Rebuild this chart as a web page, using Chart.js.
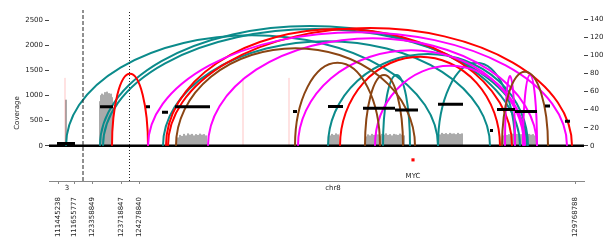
<!DOCTYPE html>
<html>
<head>
<meta charset="utf-8">
<script src="https://cdn.jsdelivr.net/npm/chart.js@4.4.1/dist/chart.umd.min.js"></script>
<style>
  html, body { margin: 0; padding: 0; background: #fff; }
  canvas { display: block; }
</style>
</head>
<body>
<canvas id="ampliconChart" width="612" height="241"></canvas>
<script>
// track positions (plot units along the stitched chr3 / chr8 track)
const tickPos = [58, 74, 92, 121, 139, 575];
const tickLabels = ['111445238', '111655777', '123358849', '123718847', '124278840', '129768788'];
const chromLabels = ['3', 'chr8'];
const chromLabelPos = [67, 333];
const breakDashed = 83;
const breakDotted = 129.5;

const covTicks = [0, 500, 1000, 1500, 2000, 2500];
const cnTicks = [0, 20, 40, 60, 80, 100, 120, 140];

// read coverage
const covPos = [66, 100, 101, 102, 103, 104, 105, 106, 107, 108, 109, 110, 111, 112,
    178, 180, 182, 184, 186, 188, 190, 192, 194, 196, 198, 200, 202, 204, 206,
    330, 332, 334, 336, 338,
    366, 368, 370, 372, 374, 376, 378, 380, 382, 384, 386, 388, 390, 392, 394, 396, 398, 400, 402, 404,
    440, 442, 444, 446, 448, 450, 452, 454, 456, 458, 460, 462,
    503, 505, 507, 509, 511, 513, 515, 517, 519, 521, 523, 525, 527, 529, 531, 533, 535];
const covVal = [910, 880, 1000, 1030, 990, 1010, 1060, 1020, 1070, 1000, 1040, 990, 1030, 960,
    160, 210, 190, 230, 200, 240, 215, 230, 200, 225, 210, 235, 215, 225, 200,
    200, 230, 210, 240, 220,
    180, 220, 200, 230, 210, 235, 220, 200, 230, 215, 240, 210, 225, 200, 230, 220, 210, 235, 215, 200,
    220, 250, 230, 245, 225, 250, 235, 240, 225, 250, 230, 240,
    200, 230, 210, 225, 200, 235, 215, 230, 205, 225, 215, 235, 210, 230, 215, 225, 200];

// discordant read spikes
const spikePos = [65, 243, 289];
const spikeVal = [1350, 1350, 1350];

// copy number segments (right axis)
const cnStart = [57, 100, 146, 162, 175, 293, 328, 363, 395, 438, 490, 497, 515, 545, 565];
const cnEnd = [75, 113, 150, 168, 210, 297, 343, 395, 418, 463, 493, 515, 537, 550, 570];
const cnVal = [2.5, 43, 43, 37, 43, 38, 43.5, 41.5, 39.5, 46, 17, 40, 38, 44, 27];

// breakpoint arcs: [start, end, height]
const tealArcs = [
    [66, 438, 2200],
    [100, 520, 2380],
    [103, 527, 2320],
    [163, 490, 2080],
    [328, 528, 1825],
    [383, 410, 1410],
    [438, 515, 1650],
];
const redArcs = [
    [112, 148, 1430],
    [166, 512, 2320],
    [168, 572, 2340],
    [340, 500, 1770],
];
const magentaArcs = [
    [148, 567, 2260],
    [208, 537, 2140],
    [298, 524, 1900],
    [375, 525, 1590],
    [505, 515, 1390],
    [523, 537, 1410],
];
const brownArcs = [
    [176, 415, 1940],
    [295, 380, 1650],
    [365, 403, 1410],
    [502, 548, 1470],
];

const genes = ['MYC'];
const genePos = [413];

const yMin = -700;
const yMax = 2700;
const cnFactor = 18;

const covData = covPos.map((x, i) => ({ x: x, y: covVal[i] }));

const spikeData = [];
spikePos.forEach((x, i) => {
    spikeData.push({ x: x, y: 0 }, { x: x, y: spikeVal[i] }, { x: x, y: null });
});

const cnData = [];
cnStart.forEach((s, i) => {
    cnData.push({ x: s, y: cnVal[i] }, { x: cnEnd[i], y: cnVal[i] }, { x: cnEnd[i], y: null });
});

const arcSets = [
    { color: '#0b8b8b', arcs: tealArcs },
    { color: '#ff0000', arcs: redArcs },
    { color: '#ff00ff', arcs: magentaArcs },
    { color: '#8b4513', arcs: brownArcs },
];

const arcPlugin = {
    id: 'arcs',
    afterDatasetDraw(chart, args) {
        if (chart.data.datasets[args.index].label !== 'baseline') return;
        const { ctx, chartArea, scales } = chart;
        const x = scales.x;
        const y = scales.y;
        const y0 = y.getPixelForValue(0);
        ctx.save();
        ctx.beginPath();
        ctx.rect(chartArea.left, chartArea.top, chartArea.right - chartArea.left, chartArea.bottom - chartArea.top);
        ctx.clip();
        ctx.lineWidth = 2;
        arcSets.forEach((set) => {
            ctx.strokeStyle = set.color;
            set.arcs.forEach((a) => {
                const xa = x.getPixelForValue(a[0]);
                const xb = x.getPixelForValue(a[1]);
                ctx.beginPath();
                ctx.ellipse((xa + xb) / 2, y0, Math.abs(xb - xa) / 2, y0 - y.getPixelForValue(a[2]), 0, Math.PI, 2 * Math.PI);
                ctx.stroke();
            });
        });
        ctx.restore();
    },
};

const textPlugin = {
    id: 'texts',
    afterDraw(chart) {
        const { ctx, chartArea, scales } = chart;
        ctx.save();
        ctx.fillStyle = '#222';
        ctx.font = '7px "DejaVu Sans"';
        ctx.textAlign = 'center';
        ctx.textBaseline = 'middle';
        chromLabels.forEach((t, i) => {
            ctx.fillText(t, scales.x.getPixelForValue(chromLabelPos[i]), chartArea.bottom + 7);
        });
        genes.forEach((g, i) => {
            ctx.fillText(g, scales.x.getPixelForValue(genePos[i]), scales.y.getPixelForValue(-600));
        });
        ctx.translate(17, 113);
        ctx.rotate(-Math.PI / 2);
        ctx.fillText('Coverage', 0, 0);
        ctx.restore();
    },
};

const ctx = document.getElementById('ampliconChart').getContext('2d');
const ampliconChart = new Chart(ctx, {
    type: 'line',
    data: {
        datasets: [
            {
                type: 'bar',
                label: 'coverage',
                data: covData,
                backgroundColor: '#aaaaaa',
                barThickness: 1.4,
                grouped: false,
                order: 6,
            },
            {
                label: 'discordant',
                data: spikeData,
                borderColor: 'rgba(255, 90, 90, 0.35)',
                borderWidth: 1,
                pointRadius: 0,
                spanGaps: false,
                order: 5,
            },
            {
                label: 'baseline',
                data: [{ x: 49, y: 0 }, { x: 584, y: 0 }],
                borderColor: '#000',
                borderWidth: 2.5,
                pointRadius: 0,
                order: 4,
            },
            {
                label: 'copy number',
                data: cnData,
                yAxisID: 'y1',
                borderColor: '#000',
                borderWidth: 3,
                borderCapStyle: 'butt',
                pointRadius: 0,
                spanGaps: false,
                order: 3,
            },
            {
                label: 'break',
                data: [{ x: breakDashed, y: yMin }, { x: breakDashed, y: yMax }],
                borderColor: '#222',
                borderWidth: 1,
                borderDash: [4, 2],
                pointRadius: 0,
                order: 2,
            },
            {
                label: 'break2',
                data: [{ x: breakDotted, y: yMin }, { x: breakDotted, y: yMax }],
                borderColor: '#222',
                borderWidth: 1,
                borderDash: [1, 2],
                pointRadius: 0,
                order: 2,
            },
            {
                label: 'genes',
                data: genePos.map((x) => ({ x: x, y: -280 })),
                showLine: false,
                pointStyle: 'rect',
                pointRadius: 2.2,
                backgroundColor: '#ff0000',
                borderWidth: 0,
                order: 1,
            },
        ],
    },
    options: {
        responsive: false,
        animation: false,
        devicePixelRatio: 1,
        layout: { padding: { top: 10, left: 0, right: 0, bottom: 0 } },
        plugins: {
            legend: { display: false },
            tooltip: { enabled: false },
        },
        scales: {
            x: {
                type: 'linear',
                min: 49,
                max: 584,
                offset: false,
                afterBuildTicks: (scale) => {
                    scale.ticks = tickPos.map((v) => ({ value: v }));
                },
                afterFit: (scale) => {
                    scale.height = 60;
                },
                grid: { offset: false, drawOnChartArea: false, drawTicks: true, tickLength: 3, color: '#888' },
                border: { color: '#888', width: 1 },
                ticks: {
                    autoSkip: false,
                    maxRotation: 90,
                    minRotation: 90,
                    padding: 13,
                    color: '#222',
                    font: { size: 7, family: 'DejaVu Sans' },
                    callback: (value) => {
                        const i = tickPos.indexOf(value);
                        return i >= 0 ? tickLabels[i] : '';
                    },
                },
            },
            y: {
                position: 'left',
                min: yMin,
                max: yMax,
                afterBuildTicks: (scale) => {
                    scale.ticks = covTicks.map((v) => ({ value: v }));
                },
                afterFit: (scale) => {
                    scale.width = 49;
                },
                grid: { drawOnChartArea: false, tickLength: 4, color: '#444' },
                border: { display: false },
                ticks: {
                    padding: 2,
                    color: '#222',
                    font: { size: 7, family: 'DejaVu Sans' },
                    callback: (value) => String(value),
                },
            },
            y1: {
                position: 'right',
                min: yMin / cnFactor,
                max: yMax / cnFactor,
                afterBuildTicks: (scale) => {
                    scale.ticks = cnTicks.map((v) => ({ value: v }));
                },
                afterFit: (scale) => {
                    scale.width = 28;
                },
                grid: { drawOnChartArea: false, tickLength: 4, color: '#444' },
                border: { display: false },
                ticks: {
                    padding: 2,
                    color: '#222',
                    font: { size: 7, family: 'DejaVu Sans' },
                    callback: (value) => String(value),
                },
            },
        },
    },
    plugins: [arcPlugin, textPlugin],
});
</script>
</body>
</html>
